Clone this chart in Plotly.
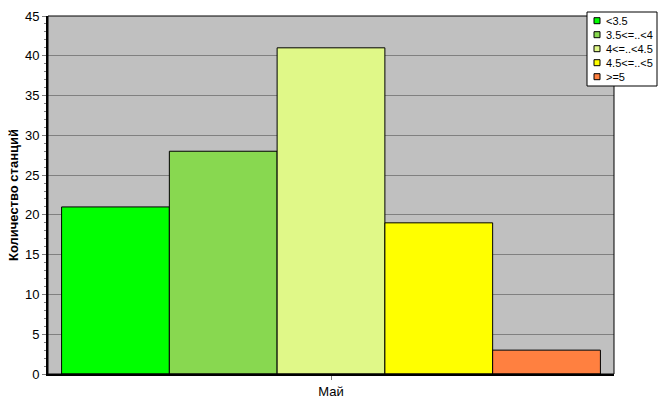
import plotly.graph_objects as go

categories = ["Май"]
series_names = ["<3.5", "3.5<=..<4", "4<=..<4.5", "4.5<=..<5", ">=5"]
series_values = [[21], [28], [41], [19], [3]]
colors = ["#00FF00", "#88D850", "#E0F888", "#FFFF00", "#FF8040"]
y_ticks = [0, 5, 10, 15, 20, 25, 30, 35, 40, 45]

W, H = 667, 415
L, R, T, B = 48, 614, 16, 374


def px_x(x):
    return (x - L) / (R - L)


def px_y(y):
    return (B - y) / (B - T)


fig = go.Figure()
for name, vals, col in zip(series_names, series_values, colors):
    fig.add_trace(go.Bar(
        x=categories, y=vals, name=name, showlegend=False,
        marker=dict(color=col, line=dict(color="black", width=1)),
    ))

fig.update_layout(
    width=W, height=H,
    margin=dict(l=L, r=W - R, t=T, b=H - B, autoexpand=False),
    paper_bgcolor="white",
    plot_bgcolor="#C0C0C0",
    barmode="group",
    bargap=0.048,
    bargroupgap=0,
    font=dict(family="Liberation Sans, Arial, sans-serif", size=13, color="black"),
)
fig.update_xaxes(
    showline=True, linecolor="black", linewidth=2,
    ticks="outside", ticklen=4, tickcolor="#808080",
    showgrid=False, automargin=False,
)
fig.update_yaxes(
    range=[0, 45], tickvals=y_ticks,
    showline=True, linecolor="black", linewidth=2,
    ticks="outside", ticklen=4, tickcolor="#808080",
    showgrid=True, gridcolor="#808080", gridwidth=1,
    minor=dict(dtick=1, ticks="outside", ticklen=2, tickcolor="#808080", showgrid=False),
    zeroline=False, automargin=False,
    title=dict(text="<b>Количество станций</b>", standoff=3, font=dict(size=13)),
)
fig.add_shape(type="rect", xref="paper", yref="paper", x0=0, y0=0, x1=1, y1=1,
              line=dict(color="black", width=1), layer="above")

# legend box (drawn manually to match the compact original legend)
fig.add_shape(type="rect", xref="paper", yref="paper",
              x0=px_x(587), x1=px_x(657), y0=px_y(86), y1=px_y(12),
              line=dict(color="black", width=1), fillcolor="white", layer="above")
for i, (name, col) in enumerate(zip(series_names, colors)):
    cy = 20.7 + 14 * i
    fig.add_shape(type="rect", xref="paper", yref="paper",
                  x0=px_x(594), x1=px_x(600), y0=px_y(cy + 3), y1=px_y(cy - 3),
                  line=dict(color="black", width=1), fillcolor=col, layer="above")
    fig.add_annotation(xref="paper", yref="paper", x=px_x(604), y=px_y(cy),
                       text=name, showarrow=False, xanchor="left", yanchor="middle",
                       font=dict(size=11, color="black"))

fig.write_html("out.html", config={"displayModeBar": False},
               post_script="document.body.style.margin='0';document.body.style.padding='0';")
